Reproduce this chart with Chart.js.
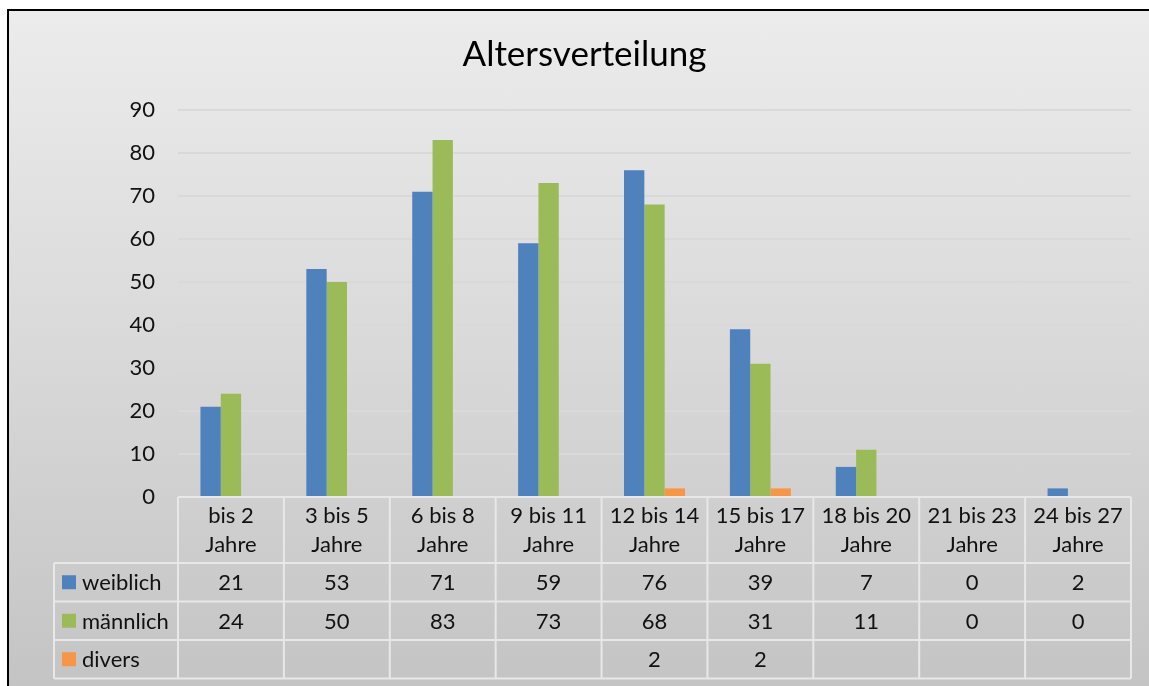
<!DOCTYPE html>
<html lang="de">
<head>
<meta charset="utf-8">
<title>Altersverteilung</title>
<script src="https://cdn.jsdelivr.net/npm/chart.js@4/dist/chart.umd.min.js"></script>
<style>
    html, body {
        margin: 0;
        padding: 0;
        background: #fff;
        overflow: hidden;
    }
    .frame {
        position: absolute;
        left: 7px;
        top: 9px;
        right: 0;
        bottom: 0;
        border-left: 2px solid #000;
        border-top: 2px solid #000;
        background: linear-gradient(to bottom, #ececec 0%, #d9d9d9 50%, #c4c4c4 100%);
    }
    #ageChart {
        position: absolute;
        left: 0;
        top: 0;
    }
</style>
</head>
<body>
<div class="frame"></div>
<canvas id="ageChart" width="1149" height="686"></canvas>

<script>
// Chart data
const categories = [
    ['bis 2', 'Jahre'],
    ['3 bis 5', 'Jahre'],
    ['6 bis 8', 'Jahre'],
    ['9 bis 11', 'Jahre'],
    ['12 bis 14', 'Jahre'],
    ['15 bis 17', 'Jahre'],
    ['18 bis 20', 'Jahre'],
    ['21 bis 23', 'Jahre'],
    ['24 bis 27', 'Jahre']
];
const weiblich = [21, 53, 71, 59, 76, 39, 7, 0, 2];
const maennlich = [24, 50, 83, 73, 68, 31, 11, 0, 0];
const divers = [null, null, null, null, 2, 2, null, null, null];
const yTicks = [0, 10, 20, 30, 40, 50, 60, 70, 80, 90];

const FONT = 'Lato, "Liberation Sans", sans-serif';
const TEXT_SIZE = 22;

// data table under the x axis (Excel style)
const dataTable = {
    id: 'dataTable',
    afterDraw(chart) {
        const ctx = chart.ctx;
        const area = chart.chartArea;
        const xs = chart.scales.x;
        const headTop = area.bottom;
        const rowTop = headTop + 66;
        const rowH = 38.5;
        const tableLeft = 54;
        const colW = (area.right - area.left) / categories.length;
        const sets = chart.data.datasets;
        const tableBottom = rowTop + sets.length * rowH;

        ctx.save();
        ctx.strokeStyle = '#e8e8e8';
        ctx.lineWidth = 2;
        ctx.beginPath();
        ctx.moveTo(area.left, headTop);
        ctx.lineTo(area.right, headTop);
        for (let r = 0; r <= sets.length; r++) {
            const y = rowTop + r * rowH;
            ctx.moveTo(tableLeft, y);
            ctx.lineTo(area.right, y);
        }
        for (let i = 0; i <= categories.length; i++) {
            const x = area.left + i * colW;
            ctx.moveTo(x, headTop);
            ctx.lineTo(x, tableBottom);
        }
        ctx.moveTo(tableLeft, rowTop);
        ctx.lineTo(tableLeft, tableBottom);
        ctx.stroke();

        ctx.font = TEXT_SIZE + 'px ' + FONT;
        ctx.textBaseline = 'middle';
        sets.forEach((ds, r) => {
            const cy = rowTop + r * rowH + rowH / 2;
            // legend key
            ctx.fillStyle = ds.backgroundColor;
            ctx.fillRect(62, cy - 7, 14, 14);
            ctx.fillStyle = '#111';
            ctx.textAlign = 'left';
            ctx.fillText(ds.label, 82, cy + 1);
            // values
            ctx.textAlign = 'center';
            ds.data.forEach((v, i) => {
                if (v === null) return;
                ctx.fillText(String(v), xs.getPixelForValue(i), cy + 1);
            });
        });
        ctx.restore();
    }
};

document.addEventListener('DOMContentLoaded', function() {
    const ctx = document.getElementById('ageChart').getContext('2d');
    new Chart(ctx, {
        type: 'bar',
        data: {
            labels: categories,
            datasets: [
                { label: 'weiblich', data: weiblich, backgroundColor: '#4f81bd' },
                { label: 'männlich', data: maennlich, backgroundColor: '#9bbb59' },
                { label: 'divers', data: divers, backgroundColor: '#f79646' }
            ]
        },
        options: {
            responsive: false,
            animation: false,
            layout: {
                // left padding also shifts the title centre to match the frame
                padding: { left: 38, right: 18, top: 0, bottom: 0 }
            },
            datasets: {
                bar: {
                    barPercentage: 1,
                    categoryPercentage: 0.576
                }
            },
            scales: {
                x: {
                    grid: { display: false, drawTicks: false },
                    border: { display: false },
                    ticks: {
                        color: '#111',
                        padding: 4.5,
                        maxRotation: 0,
                        autoSkip: false,
                        font: { family: FONT, size: TEXT_SIZE, lineHeight: 29 / TEXT_SIZE }
                    },
                    afterFit: function(scale) { scale.height = 189; }
                },
                y: {
                    min: 0,
                    max: 90,
                    afterBuildTicks: function(scale) {
                        scale.ticks = yTicks.map(v => ({ value: v }));
                    },
                    grid: {
                        drawTicks: false,
                        lineWidth: 2,
                        color: c => c.tick.value === 0 ? 'rgba(0,0,0,0)' : '#d9d9d9'
                    },
                    border: { display: false },
                    ticks: {
                        color: '#111',
                        padding: 23,
                        font: { family: FONT, size: TEXT_SIZE }
                    },
                    afterFit: function(scale) { scale.width = 140; }
                }
            },
            plugins: {
                legend: { display: false },
                tooltip: { enabled: false },
                title: {
                    display: true,
                    text: 'Altersverteilung',
                    color: '#000',
                    font: { family: FONT, size: 35, weight: 'normal', lineHeight: 1.2 },
                    padding: { top: 34, bottom: 34 }
                }
            }
        },
        plugins: [dataTable]
    });
});
</script>
</body>
</html>
